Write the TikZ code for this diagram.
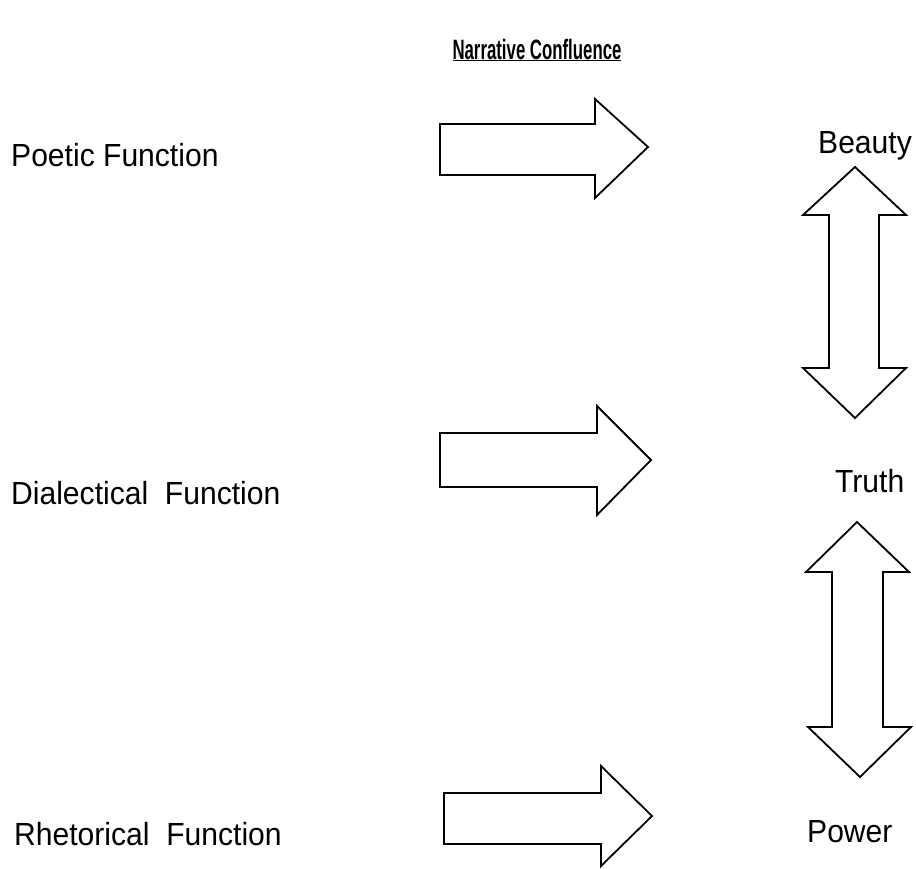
\documentclass[tikz,border=0pt]{standalone}
\usepackage{fontspec}
\setmainfont{Liberation Sans}[FakeStretch=0.94]
\newfontfamily\titlefont{Liberation Sans}[FakeStretch=0.6]
\usepackage{tikz}

\tikzset{
  label/.style={inner sep=0pt, anchor=base west, font=\fontsize{32}{32}\selectfont},
  outline/.style={draw=black, line width=1.8pt, line join=miter, fill=white}
}

\begin{document}
\begin{tikzpicture}[x=1pt,y=-1pt]
  \useasboundingbox (0,0) rectangle (916,868);
  % title
  \node[inner sep=0pt, anchor=base, font=\fontsize{28}{28}\titlefont\bfseries] (title) at (537,59) {\underline{Narrative Confluence}};
  % functions on the left
  \node[label] (poetic) at (11,166) {Poetic Function};
  \node[label] (dialectical) at (11,504) {Dialectical\ \ Function};
  \node[label] (rhetorical) at (14,845) {Rhetorical\ \ Function};
  % values on the right
  \node[label] (beauty) at (818,153) {Beauty};
  \node[label] (truth) at (835,492) {Truth};
  \node[label] (power) at (807,842) {Power};
  % right arrows
  \draw[outline] (440,124) -- (595,124) -- (595,99) -- (648,147) -- (595,198) -- (595,175) -- (440,175) -- cycle;
  \draw[outline] (440,433) -- (597,433) -- (597,406) -- (651,460) -- (597,515) -- (597,487) -- (440,487) -- cycle;
  \draw[outline] (444,793) -- (601,793) -- (601,766) -- (652,816) -- (601,866) -- (601,844) -- (444,844) -- cycle;
  % double arrows
  \draw[outline] (855,167) -- (906,215) -- (879,215) -- (879,368) -- (906,368) -- (855,418) -- (803,368) -- (829,368) -- (829,215) -- (803,215) -- cycle;
  \draw[outline] (857,522) -- (909,572) -- (883,572) -- (883,727) -- (911,727) -- (860,777) -- (808,727) -- (832,727) -- (832,572) -- (806,572) -- cycle;
\end{tikzpicture}
\end{document}
